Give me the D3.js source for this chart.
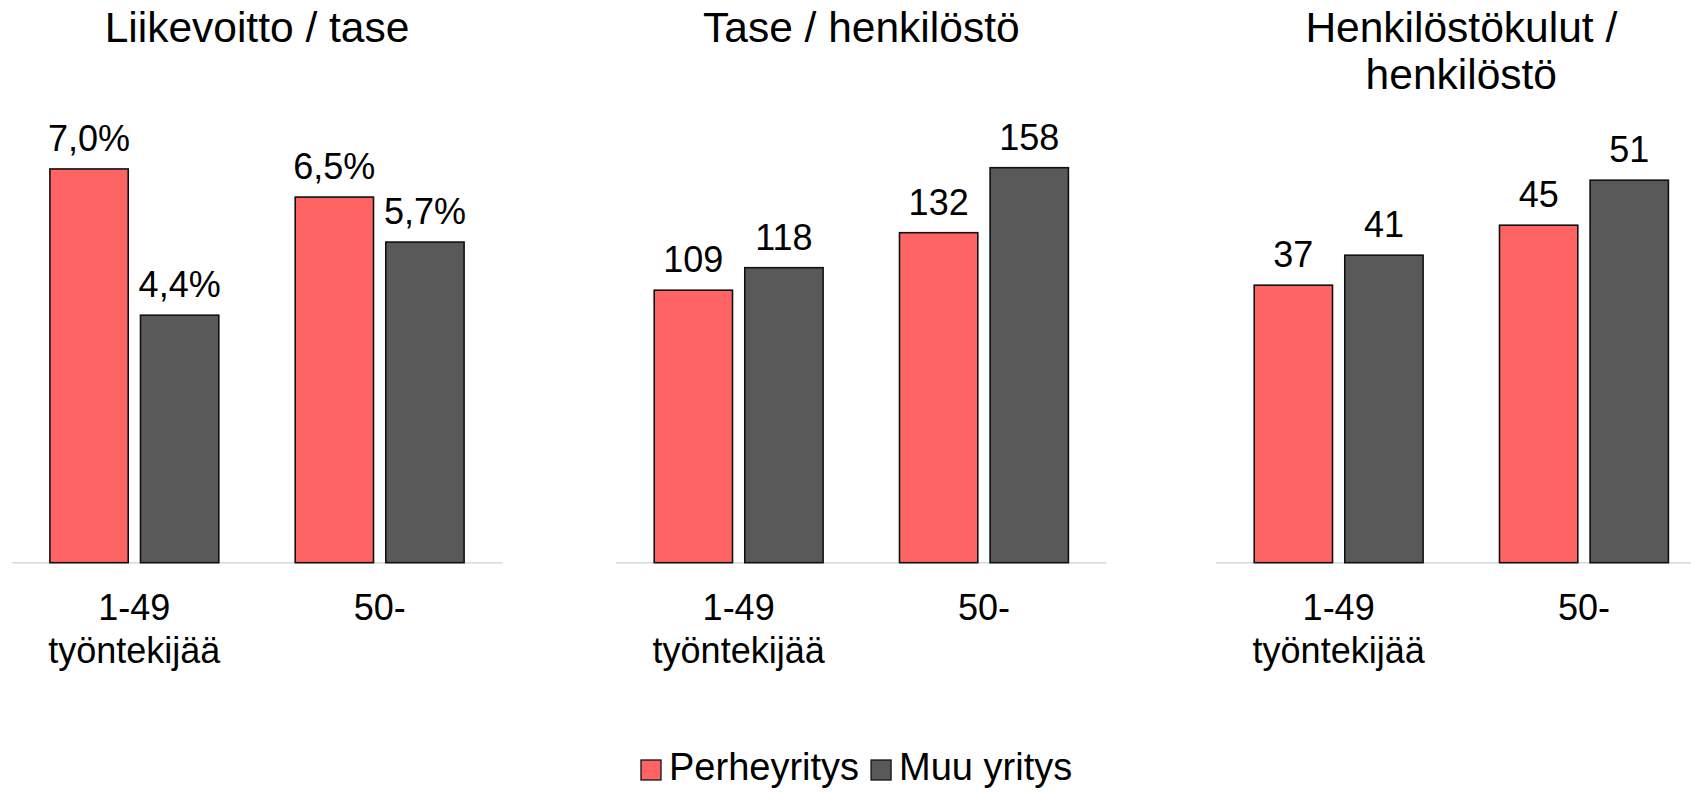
<!DOCTYPE html>
<html>
<head>
<meta charset="utf-8">
<script src="https://cdn.jsdelivr.net/npm/d3@7"></script>
<style>
  html, body { margin: 0; padding: 0; background: #fff; }
  svg { display: block; }
  text { font-family: "Liberation Sans", Arial, sans-serif; fill: #000; }
</style>
</head>
<body>
<svg id="chart" width="1691" height="793"></svg>
<script>
// ---- data ----
const categories = [["1-49", "työntekijää"], ["50-"]];
const seriesNames = ["Perheyritys", "Muu yritys"];
const panelTitles = [["Liikevoitto / tase"], ["Tase / henkilöstö"], ["Henkilöstökulut /", "henkilöstö"]];
const perheValues = [[7.0, 6.5], [109, 132], [37, 45]];
const muuValues = [[4.4, 5.7], [118, 158], [41, 51]];
const valueLabelsPerhe = [["7,0%", "6,5%"], ["109", "132"], ["37", "45"]];
const valueLabelsMuu = [["4,4%", "5,7%"], ["118", "158"], ["41", "51"]];
const yMax = [8, 180, 60];

// ---- layout ----
const colors = ["#FF6464", "#595959"];
const panelX = [11.7, 616, 1216];
const axisW = 490.6;
const baseY = 562.7, topY = 112.7;

const svg = d3.select("#chart");
const catKeys = categories.map(c => c.join(" "));

panelTitles.forEach((title, p) => {
  const g = svg.append("g");
  const x0 = d3.scaleBand().domain(catKeys).range([panelX[p], panelX[p] + axisW]).padding(0);
  const bw = x0.bandwidth();
  const x1 = d3.scaleBand().domain(seriesNames).range([38.2, bw - 38.2]).paddingInner(0.1356).paddingOuter(0);
  const y = d3.scaleLinear().domain([0, yMax[p]]).range([baseY, topY]);

  // axis line
  g.append("line")
    .attr("x1", panelX[p]).attr("x2", panelX[p] + axisW)
    .attr("y1", baseY).attr("y2", baseY)
    .attr("stroke", "#D9D9D9").attr("stroke-width", 1.5);

  const rows = catKeys.map((k, i) => ({
    key: k,
    vals: [
      { s: seriesNames[0], v: perheValues[p][i], lab: valueLabelsPerhe[p][i], c: colors[0] },
      { s: seriesNames[1], v: muuValues[p][i], lab: valueLabelsMuu[p][i], c: colors[1] }
    ]
  }));

  const grp = g.selectAll(".grp").data(rows).join("g")
    .attr("transform", d => `translate(${x0(d.key)},0)`);

  grp.selectAll("rect").data(d => d.vals).join("rect")
    .attr("x", d => x1(d.s))
    .attr("y", d => y(d.v))
    .attr("width", x1.bandwidth())
    .attr("height", d => baseY - y(d.v))
    .attr("fill", d => d.c)
    .attr("stroke", "#111")
    .attr("stroke-width", 1.6);

  grp.selectAll("text.val").data(d => d.vals).join("text")
    .attr("class", "val")
    .attr("x", d => x1(d.s) + x1.bandwidth() / 2)
    .attr("y", d => y(d.v) - 18)
    .attr("text-anchor", "middle")
    .attr("font-size", 36)
    .text(d => d.lab);

  // category labels
  categories.forEach((lines, i) => {
    const t = g.append("text")
      .attr("x", x0(catKeys[i]) + bw / 2)
      .attr("y", 620)
      .attr("text-anchor", "middle")
      .attr("font-size", 36);
    lines.forEach((ln, j) => {
      t.append("tspan").attr("x", x0(catKeys[i]) + bw / 2).attr("y", 620 + j * 42.7).text(ln);
    });
  });

  // title
  const tt = g.append("text")
    .attr("text-anchor", "middle")
    .attr("font-size", 42.5);
  title.forEach((ln, j) => {
    tt.append("tspan").attr("x", panelX[p] + axisW / 2).attr("y", 41.7 + j * 47.7).text(ln);
  });
});

// legend
const leg = svg.append("g");
let lx = 641;
seriesNames.forEach((s, i) => {
  leg.append("rect").attr("x", lx).attr("y", 760).attr("width", 20).attr("height", 20)
    .attr("fill", colors[i]).attr("stroke", "#111").attr("stroke-width", 1.3);
  const t = leg.append("text").attr("x", lx + 28).attr("y", 779.5).attr("font-size", 38).text(s);
  lx = lx + 28 + t.node().getComputedTextLength() + 12;
});
</script>
</body>
</html>
